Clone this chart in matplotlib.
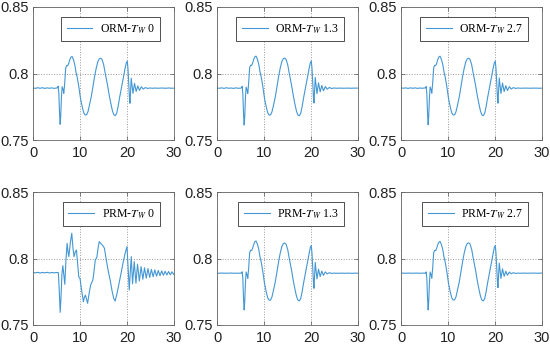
import matplotlib
matplotlib.use('Agg')
import matplotlib.pyplot as plt

# time axis shared by the five similar responses
t_orm = [0, 0.5, 1, 1.5, 2, 2.5, 3, 3.5, 4, 4.5, 5,
         5.2, 5.35, 5.5, 5.65, 5.78, 5.9, 6.05, 6.2, 6.4, 6.55,
         6.75, 6.95, 7.15, 7.35, 7.55, 7.8, 8.05, 8.3, 8.6, 8.9,
         9.15, 9.45, 9.75, 10.1, 10.5, 10.8, 11.1, 11.4, 11.7, 12.0,
         12.4, 12.75, 13.1, 13.45, 13.8, 14.1, 14.4, 14.7, 15.05, 15.4,
         15.85, 16.2, 16.55, 16.9, 17.2, 17.5, 17.8, 18.1, 18.4, 18.8,
         19.2, 19.6, 19.85, 20.05, 20.2, 20.35, 20.5, 20.63, 20.9, 21.27,
         21.6, 21.95, 22.3, 22.65, 23.05, 23.45, 23.9, 24.4, 24.9, 25.5,
         26, 26.5, 27, 27.5, 28, 28.5, 29, 29.5, 30]

orm_0 = [0.7892, 0.7888, 0.7893, 0.7889, 0.7893, 0.7888, 0.7892, 0.7889, 0.7892, 0.7888, 0.7891,
         0.7893, 0.7905, 0.7850, 0.7700, 0.7618, 0.7680, 0.7820, 0.7900, 0.7880, 0.7851,
         0.7930, 0.8039, 0.8060, 0.8058, 0.8070, 0.8100, 0.8122, 0.8128, 0.8105, 0.8064,
         0.8010, 0.7964, 0.7900, 0.7814, 0.7745, 0.7705, 0.7688, 0.7690, 0.7713, 0.7760,
         0.7826, 0.7900, 0.7976, 0.8040, 0.8089, 0.8110, 0.8115, 0.8105, 0.8064, 0.7995,
         0.7914, 0.7840, 0.7776, 0.7720, 0.7690, 0.7683, 0.7700, 0.7750, 0.7814, 0.7890,
         0.7964, 0.8040, 0.8080, 0.8094, 0.8040, 0.7940, 0.7830, 0.7776, 0.7964, 0.7851,
         0.7926, 0.7865, 0.7907, 0.7873, 0.7900, 0.7883, 0.7894, 0.7888, 0.7891, 0.7889,
         0.7891, 0.7889, 0.7890, 0.7891, 0.7889, 0.7890, 0.7891, 0.7889, 0.7890]

orm_13 = [0.7891, 0.7889, 0.7892, 0.7888, 0.7893, 0.7889, 0.7891, 0.7888, 0.7892, 0.7889, 0.7890,
          0.7893, 0.7903, 0.7845, 0.7695, 0.7613, 0.7675, 0.7815, 0.7898, 0.7875, 0.7850,
          0.7935, 0.8045, 0.8062, 0.8060, 0.8075, 0.8105, 0.8126, 0.8131, 0.8108, 0.8066,
          0.8012, 0.7966, 0.7902, 0.7815, 0.7745, 0.7704, 0.7687, 0.7689, 0.7712, 0.7758,
          0.7824, 0.7898, 0.7975, 0.8040, 0.8090, 0.8111, 0.8116, 0.8106, 0.8065, 0.7996,
          0.7915, 0.7840, 0.7775, 0.7718, 0.7688, 0.7682, 0.7699, 0.7748, 0.7812, 0.7888,
          0.7962, 0.8038, 0.8080, 0.8095, 0.8045, 0.7945, 0.7832, 0.7778, 0.7970, 0.7848,
          0.7930, 0.7862, 0.7910, 0.7870, 0.7902, 0.7882, 0.7895, 0.7887, 0.7891, 0.7889,
          0.7890, 0.7890, 0.7889, 0.7890, 0.7890, 0.7889, 0.7890, 0.7890, 0.7890]

orm_27 = [0.7892, 0.7889, 0.7892, 0.7888, 0.7892, 0.7889, 0.7892, 0.7888, 0.7891, 0.7889, 0.7891,
          0.7892, 0.7902, 0.7848, 0.7698, 0.7615, 0.7678, 0.7818, 0.7899, 0.7878, 0.7852,
          0.7932, 0.8042, 0.8061, 0.8059, 0.8072, 0.8103, 0.8124, 0.8130, 0.8106, 0.8065,
          0.8011, 0.7965, 0.7901, 0.7815, 0.7745, 0.7705, 0.7688, 0.7690, 0.7712, 0.7759,
          0.7825, 0.7899, 0.7976, 0.8040, 0.8089, 0.8110, 0.8115, 0.8105, 0.8064, 0.7995,
          0.7914, 0.7840, 0.7776, 0.7719, 0.7689, 0.7683, 0.7700, 0.7749, 0.7813, 0.7889,
          0.7963, 0.8039, 0.8079, 0.8094, 0.8042, 0.7942, 0.7831, 0.7777, 0.7966, 0.7850,
          0.7928, 0.7864, 0.7908, 0.7872, 0.7901, 0.7883, 0.7894, 0.7888, 0.7891, 0.7889,
          0.7890, 0.7890, 0.7890, 0.7889, 0.7890, 0.7890, 0.7890, 0.7889, 0.7890]

prm_13 = [0.7890, 0.7889, 0.7891, 0.7889, 0.7890, 0.7889, 0.7891, 0.7889, 0.7890, 0.7889, 0.7890,
          0.7891, 0.7900, 0.7846, 0.7696, 0.7613, 0.7676, 0.7816, 0.7898, 0.7876, 0.7851,
          0.7934, 0.8044, 0.8062, 0.8060, 0.8074, 0.8104, 0.8126, 0.8132, 0.8108, 0.8066,
          0.8012, 0.7966, 0.7902, 0.7815, 0.7745, 0.7704, 0.7686, 0.7688, 0.7712, 0.7758,
          0.7824, 0.7898, 0.7975, 0.8040, 0.8090, 0.8112, 0.8117, 0.8107, 0.8066, 0.7996,
          0.7915, 0.7840, 0.7775, 0.7718, 0.7688, 0.7681, 0.7698, 0.7748, 0.7812, 0.7888,
          0.7962, 0.8038, 0.8082, 0.8098, 0.8046, 0.7946, 0.7832, 0.7776, 0.7970, 0.7847,
          0.7920, 0.7864, 0.7905, 0.7873, 0.7899, 0.7884, 0.7893, 0.7888, 0.7890, 0.7889,
          0.7889, 0.7890, 0.7889, 0.7889, 0.7890, 0.7889, 0.7889, 0.7890, 0.7889]

prm_27 = [0.7890, 0.7890, 0.7889, 0.7890, 0.7890, 0.7889, 0.7890, 0.7890, 0.7889, 0.7890, 0.7890,
          0.7890, 0.7899, 0.7847, 0.7697, 0.7613, 0.7677, 0.7817, 0.7898, 0.7877, 0.7852,
          0.7933, 0.8042, 0.8061, 0.8059, 0.8072, 0.8102, 0.8123, 0.8128, 0.8106, 0.8065,
          0.8011, 0.7965, 0.7901, 0.7815, 0.7745, 0.7705, 0.7687, 0.7689, 0.7712, 0.7759,
          0.7825, 0.7899, 0.7976, 0.8041, 0.8091, 0.8113, 0.8118, 0.8108, 0.8066, 0.7996,
          0.7915, 0.7840, 0.7775, 0.7718, 0.7688, 0.7681, 0.7698, 0.7748, 0.7812, 0.7888,
          0.7962, 0.8038, 0.8082, 0.8098, 0.8046, 0.7946, 0.7833, 0.7781, 0.7965, 0.7850,
          0.7922, 0.7866, 0.7904, 0.7874, 0.7898, 0.7885, 0.7893, 0.7888, 0.7890, 0.7889,
          0.7890, 0.7890, 0.7889, 0.7890, 0.7890, 0.7890, 0.7889, 0.7890, 0.7890]

# PRM with T_W = 0 rings much longer, own time axis
t_prm0 = [0, 0.5, 1, 1.5, 2, 2.5, 3, 3.5, 4, 4.5, 5, 5.4,
          5.6, 5.78, 5.95, 6.15, 6.35, 6.55, 6.77, 7.0, 7.26, 7.45,
          7.62, 7.95, 8.25, 8.5, 8.73, 9.0, 9.24, 9.5, 9.73, 10.0,
          10.35, 10.72, 10.95, 11.14, 11.35, 11.62, 11.95, 12.26, 12.5, 12.74,
          13.0, 13.25, 13.59, 13.85, 14.09, 14.45, 14.85, 15.2, 15.5, 15.78,
          16.1, 16.48, 16.8, 17.17, 17.47, 17.9, 18.38, 18.8, 19.22, 19.6,
          20.0, 20.25, 20.48, 20.7, 20.91, 21.18, 21.54, 21.9, 22.24, 22.63,
          23.0, 23.37, 23.73, 24.1, 24.46, 24.83, 25.19, 25.56, 25.92, 26.29,
          26.65, 27.02, 27.38, 27.75, 28.11, 28.48, 28.84, 29.21, 29.57, 29.94, 30]

prm_0 = [0.7895, 0.7892, 0.7896, 0.7891, 0.7895, 0.7892, 0.7896, 0.7891, 0.7895, 0.7892, 0.7895, 0.7893,
         0.7750, 0.7595, 0.7700, 0.7880, 0.7946, 0.7880, 0.7806, 0.7980, 0.8114, 0.8050,
         0.8014, 0.8120, 0.8190, 0.8080, 0.8014, 0.8050, 0.8064, 0.7960, 0.7863, 0.7850,
         0.7760, 0.7675, 0.7710, 0.7725, 0.7700, 0.7663, 0.7740, 0.7800, 0.7820, 0.7838,
         0.7910, 0.7989, 0.8010, 0.8080, 0.8127, 0.8112, 0.8097, 0.8077, 0.8010, 0.7950,
         0.7890, 0.7826, 0.7760, 0.7700, 0.7680, 0.7740, 0.7826, 0.7900, 0.7977, 0.8040,
         0.8089, 0.7920, 0.7763, 0.7900, 0.8014, 0.7810, 0.7977, 0.7814, 0.7957, 0.7831,
         0.7939, 0.7844, 0.7930, 0.7852, 0.7924, 0.7858, 0.7918, 0.7863, 0.7914, 0.7867,
         0.7910, 0.7871, 0.7907, 0.7874, 0.7904, 0.7876, 0.7902, 0.7878, 0.7900, 0.7880, 0.7882]

labels = [r'ORM-$T_W$ 0', r'ORM-$T_W$ 1.3', r'ORM-$T_W$ 2.7',
          r'PRM-$T_W$ 0', r'PRM-$T_W$ 1.3', r'PRM-$T_W$ 2.7']
series = [(t_orm, orm_0), (t_orm, orm_13), (t_orm, orm_27),
          (t_prm0, prm_0), (t_orm, prm_13), (t_orm, prm_27)]

plt.rcParams['font.family'] = 'Liberation Sans'
plt.rcParams['mathtext.fontset'] = 'stix'

W, H = 550, 347
fig = plt.figure(figsize=(W / 100, H / 100), dpi=100)

lefts = [33, 217, 401]
tops = [7, 192]
aw, ah = 141, 133

for i in range(6):
    r, c = divmod(i, 3)
    ax = fig.add_axes([lefts[c] / W, (H - tops[r] - ah) / H, aw / W, ah / H])
    x, y = series[i]
    ax.plot(x, y, color='#4497d3', lw=0.8, label=labels[i])
    ax.set_xlim(0, 30)
    ax.set_ylim(0.75, 0.85)
    ax.set_xticks([0, 10, 20, 30])
    ax.set_yticks([0.75, 0.8, 0.85])
    ax.set_yticklabels(['0.75', '0.8', '0.85'])
    ax.grid(True, ls=':', color='#9a9a9a', lw=0.7)
    ax.tick_params(direction='in', length=3, width=0.5, labelsize=10.5,
                   color='#555555', labelcolor='#222222', top=True, right=True)
    ax.tick_params(axis='x', pad=4)
    ax.tick_params(axis='y', pad=3)
    for s in ax.spines.values():
        s.set_color('#666666')
        s.set_linewidth(0.6)
    leg = ax.legend(loc='upper right', bbox_to_anchor=(0.9, 0.925), borderaxespad=0,
                    fancybox=False, edgecolor='#333333', framealpha=1,
                    prop={'family': 'Liberation Serif', 'size': 8.5},
                    handlelength=2.2, borderpad=0.45, handletextpad=0.6)
    leg.get_frame().set_linewidth(0.6)

fig.savefig('out.png', dpi=100)
